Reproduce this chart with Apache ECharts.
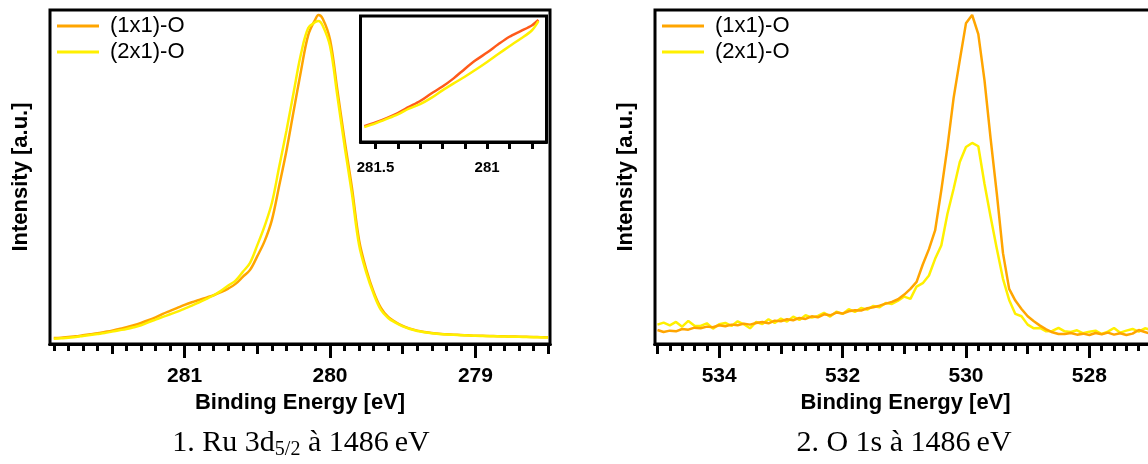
<!DOCTYPE html>
<html><head><meta charset="utf-8">
<script src="https://cdn.jsdelivr.net/npm/echarts@6/dist/echarts.min.js"></script>
<style>html,body{margin:0;padding:0;background:#fff}#c{width:1148px;height:464px}</style>
</head><body><div id="c"></div>
<script>
// ---------- Panel 1 : Ru 3d5/2 ----------
const ruEnergy = [281.90,281.85,281.80,281.75,281.70,281.65,281.60,281.55,281.50,281.45,281.40,281.35,281.30,281.25,281.20,281.15,281.10,281.05,281.00,280.95,280.90,280.85,280.80,280.75,280.70,280.65,280.60,280.55,280.50,280.45,280.40,280.35,280.30,280.25,280.20,280.15,280.10,280.08,280.05,280.00,279.95,279.90,279.85,279.80,279.75,279.70,279.65,279.60,279.55,279.50,279.45,279.40,279.35,279.30,279.25,279.20,279.15,279.10,279.05,279.00,278.95,278.90,278.85,278.80,278.75,278.70,278.65,278.60,278.55,278.50];
const ruOrange = [1.8,1.9,2.1,2.3,2.6,2.9,3.2,3.6,4.0,4.5,5.0,5.6,6.3,7.1,8.0,9.0,9.9,10.8,11.7,12.5,13.2,13.9,14.6,15.5,16.6,18.0,20.1,22.2,26.3,30.8,37.1,47.3,57.8,69.8,81.7,92.5,97.3,98.5,97.4,91.2,76.2,61.1,47.0,31.1,22.2,15.6,10.8,8.1,6.6,5.4,4.6,4.0,3.6,3.3,3.1,2.9,2.8,2.7,2.6,2.5,2.45,2.4,2.35,2.3,2.25,2.2,2.15,2.1,2.05,2.0];
const ruYellow = [1.6,1.7,1.9,2.1,2.4,2.7,3.0,3.3,3.7,4.1,4.5,5.0,5.6,6.5,7.3,8.1,8.9,9.7,10.6,11.5,12.5,13.5,14.6,15.9,17.5,19.0,21.6,24.3,29.6,35.3,42.2,53.0,63.8,75.4,86.8,94.6,96.4,96.7,95.3,89.2,74.4,59.3,45.2,29.6,21.3,15.0,10.2,7.8,6.4,5.3,4.5,3.9,3.5,3.2,3.0,2.85,2.75,2.65,2.55,2.45,2.4,2.35,2.3,2.25,2.2,2.15,2.1,2.05,2.0,1.95];
const ruTickLabels = [281, 280, 279];

// ---------- Inset (zoom of Ru 3d shoulder) ----------
const insetEnergy = [281.55,281.50,281.45,281.40,281.35,281.30,281.25,281.20,281.15,281.10,281.05,281.00,280.95,280.90,280.85,280.80,280.77];
const insetRed    = [12.5,15.5,19.0,23.0,27.8,32.5,38.5,44.0,50.5,58.0,65.0,71.0,77.5,83.5,88.0,92.5,96.8];
const insetYellow = [11.8,14.8,18.3,22.0,26.5,30.0,35.0,41.0,46.5,51.8,57.5,63.5,69.8,76.0,82.0,88.5,96.0];
const insetTickLabels = [281.5, 281];

// ---------- Panel 2 : O 1s ----------
const oEnergy = [535.0,534.9,534.8,534.7,534.6,534.5,534.4,534.3,534.2,534.1,534.0,533.9,533.8,533.7,533.6,533.5,533.4,533.3,533.2,533.1,533.0,532.9,532.8,532.7,532.6,532.5,532.4,532.3,532.2,532.1,532.0,531.9,531.8,531.7,531.6,531.5,531.4,531.3,531.2,531.1,531.0,530.9,530.8,530.7,530.6,530.5,530.4,530.3,530.2,530.1,530.0,529.9,529.8,529.7,529.6,529.5,529.4,529.3,529.2,529.1,529.0,528.9,528.8,528.7,528.6,528.5,528.4,528.3,528.2,528.1,528.0,527.9,527.8,527.7,527.6,527.5,527.4,527.3,527.2,527.1,527.0];
const oOrange = [4.2,3.6,4.0,3.8,4.5,4.3,4.9,4.7,5.2,5.0,5.6,5.3,5.8,5.6,6.1,5.8,6.3,6.6,6.2,7.0,6.8,7.4,7.1,7.8,7.5,8.3,8.0,8.9,8.6,9.4,9.1,9.8,10.1,10.0,10.7,11.0,11.5,12.1,12.6,13.4,14.8,16.5,18.6,23.8,28.4,34.0,46.0,59.0,73.7,85.0,96.0,98.5,92.8,79.0,61.4,45.0,27.2,16.5,13.0,10.5,8.3,6.8,5.5,4.4,3.5,3.0,3.0,3.3,2.8,3.1,2.7,3.3,2.9,3.4,2.8,3.2,2.7,3.1,4.2,3.6,3.0];
const oYellow = [5.8,6.4,5.6,6.6,5.2,6.9,5.5,5.4,6.2,4.6,5.9,6.3,5.4,6.8,5.9,4.7,6.6,6.0,7.4,6.3,7.6,6.7,8.2,7.2,8.6,7.9,8.4,9.3,8.2,9.7,9.0,10.4,9.6,10.8,10.3,11.4,11.0,12.3,12.0,13.0,14.2,13.5,17.2,18.2,20.5,25.5,29.5,39.0,46.5,54.5,59.0,60.2,59.2,48.0,38.0,28.5,19.5,13.2,9.0,8.3,5.8,4.7,4.8,3.8,3.9,4.8,3.8,3.6,4.1,3.2,3.7,4.0,3.0,3.7,4.8,3.4,4.0,4.5,3.7,4.7,4.2];
const oTickLabels = [534, 532, 530, 528];

const seriesNames = ['(1x1)-O', '(2x1)-O'];

// tick mark positions (axis values)
function steps(a, b, s) { const out = []; for (let v = a; v <= b + 1e-9; v += s) out.push(Math.round(v * 100) / 100); return out; }
const ruMinor = steps(278.5, 281.9, 0.1), ruMid = steps(278.5, 281.5, 0.5);
const oMinor = steps(527.0, 535.0, 0.2), oMid = steps(527, 535, 2);
const insetTicks = steps(280.8, 281.5, 0.1);

const SANS = 'Liberation Sans';
const zip = (xs, ys) => xs.map((x, i) => [x, ys[i]]);

function xAx(grid, min, max, ticks, len, labels, opts) {
  opts = opts || {};
  return {
    type: 'value', gridIndex: grid, position: 'bottom', offset: 0, min: min, max: max, inverse: true,
    axisLine: { show: true, onZero: false, lineStyle: { color: '#000', width: 3 } }, splitLine: { show: false },
    axisTick: { show: true, inside: false, length: len, customValues: ticks, lineStyle: { color: '#000', width: 3 } },
    axisLabel: labels ? { show: true, customValues: labels, formatter: v => String(v), color: '#000', fontFamily: SANS, fontWeight: 'bold', fontSize: opts.fs || 21, margin: opts.margin || 22 } : { show: false },
    name: opts.name || '', nameLocation: 'middle', nameGap: opts.nameGap || 45,
    nameTextStyle: { color: '#000', fontFamily: SANS, fontWeight: 'bold', fontSize: 22 },
    z: opts.z || 4
  };
}
function yAx(grid, name) {
  return {
    type: 'value', gridIndex: grid, min: 0, max: 100,
    axisLine: { show: false }, axisTick: { show: false }, axisLabel: { show: false }, splitLine: { show: false },
    name: name || '', nameLocation: 'middle', nameRotate: 90, nameGap: 18,
    nameTextStyle: { color: '#000', fontFamily: SANS, fontWeight: 'bold', fontSize: 22 }
  };
}
function line(name, xi, yi, data, color, smooth, z) {
  return { name: name, type: 'line', xAxisIndex: xi, yAxisIndex: yi, data: data, symbol: 'none', smooth: smooth,
    lineStyle: { color: color, width: 2.5 }, itemStyle: { color: color }, z: z || 2, animation: false };
}
function legendAt(left) {
  return { left: left, top: 15, padding: 0, orient: 'vertical', icon: 'rect', itemWidth: 42, itemHeight: 3, itemGap: 4,
    data: seriesNames, textStyle: { fontSize: 22, fontFamily: SANS, color: '#000', lineHeight: 22, padding: [0, 0, 0, 6] } };
}

const chart = echarts.init(document.getElementById('c'), null, { renderer: 'canvas' });
chart.setOption({
  backgroundColor: '#fff',
  animation: false,
  grid: [
    { left: 50, top: 10, width: 500, height: 334, outerBoundsMode: 'none', containLabel: false, show: true, borderColor: '#000', borderWidth: 3, backgroundColor: 'transparent' },
    { left: 655, top: 10, width: 501, height: 334, outerBoundsMode: 'none', containLabel: false, show: true, borderColor: '#000', borderWidth: 3, backgroundColor: 'transparent' },
    { left: 360.5, top: 16, width: 186, height: 126, outerBoundsMode: 'none', containLabel: false, show: true, borderColor: '#000', borderWidth: 3, backgroundColor: '#fff', z: 5 }
  ],
  xAxis: [
    xAx(0, 278.487, 281.926, ruTickLabels, 14, ruTickLabels, { name: 'Binding Energy [eV]' }),
    xAx(0, 278.487, 281.926, ruMid, 10, null),
    xAx(0, 278.487, 281.926, ruMinor, 7, null),
    xAx(1, 526.92, 535.04, oTickLabels, 14, oTickLabels, { name: 'Binding Energy [eV]' }),
    xAx(1, 526.92, 535.04, oMid, 10, null),
    xAx(1, 526.92, 535.04, oMinor, 7, null),
    xAx(2, 280.734, 281.567, insetTicks, 7, insetTickLabels, { fs: 15, margin: 18, z: 6 })
  ],
  yAxis: [ yAx(0, 'Intensity [a.u.]'), yAx(1, 'Intensity [a.u.]'), yAx(2, '') ],
  legend: [ legendAt(57), legendAt(662) ],
  series: [
    line(seriesNames[0], 0, 0, zip(ruEnergy, ruOrange), '#FFA500', 0.35, 2),
    line(seriesNames[1], 0, 0, zip(ruEnergy, ruYellow), '#FFF000', 0.35, 3),
    line(seriesNames[1], 3, 1, zip(oEnergy, oYellow), '#FFF000', false, 2),
    line(seriesNames[0], 3, 1, zip(oEnergy, oOrange), '#FFA500', false, 3),
    line('inset (1x1)-O', 6, 2, zip(insetEnergy, insetRed), '#FF5A1A', 0.3, 7),
    line('inset (2x1)-O', 6, 2, zip(insetEnergy, insetYellow), '#FFF000', 0.3, 8)
  ],
  graphic: [
    { type: 'text', x: 301, y: 443, z: 10, style: { text: '{a|1. Ru 3d}{s|5/2}{a| à 1486\u2009eV}', align: 'center', verticalAlign: 'middle',
      rich: { a: { fontSize: 30, fontFamily: 'Liberation Serif', fill: '#000', lineHeight: 34, verticalAlign: 'middle' },
              s: { fontSize: 20, fontFamily: 'Liberation Serif', fill: '#000', lineHeight: 34, verticalAlign: 'bottom' } } } },
    { type: 'text', x: 904, y: 443, z: 10, style: { text: '2. O 1s à 1486\u2009eV', align: 'center', verticalAlign: 'middle',
      fontSize: 30, fontFamily: 'Liberation Serif', fill: '#000' } }
  ]
});
</script>
</body></html>
